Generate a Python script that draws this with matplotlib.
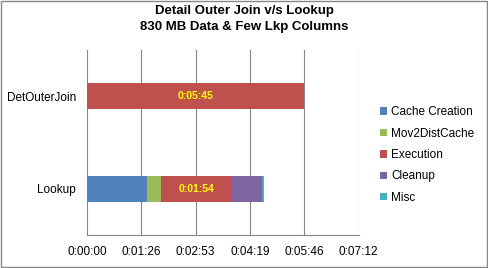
import matplotlib.pyplot as plt
from matplotlib.patches import Rectangle
from matplotlib.ticker import FuncFormatter

plt.rcParams['font.family'] = ['Liberation Sans', 'DejaVu Sans']

# ====================== DATA (seconds) ======================
categories = ['Lookup', 'DetOuterJoin']
phases = ['Cache Creation', 'Mov2DistCache', 'Execution', 'Cleanup', 'Misc']
colors = ['#4F81BD', '#9BBB59', '#C0504D', '#8064A2', '#4BACC6']
cache_creation = [96, 0]
mov2distcache = [21, 0]
execution = [114, 345]
cleanup = [47, 0]
misc = [4, 0]
x_ticks = [0, 86.4, 172.8, 259.2, 345.6, 432]


def fmt_time(sec, pos=None):
    s = int(round(sec))
    return f"{s // 3600}:{(s % 3600) // 60:02d}:{s % 60:02d}"


# ====================== PLOT ======================
fig = plt.figure(figsize=(4.88, 2.68), dpi=100)
ax = fig.add_axes([87 / 488, 1 - 235 / 268, 271.5 / 488, 185 / 268])

series = [cache_creation, mov2distcache, execution, cleanup, misc]
left = [0, 0]
ypos = range(len(categories))
for name, vals, col in zip(phases, series, colors):
    bars = ax.barh(ypos, vals, left=left, height=0.28, color=col, label=name)
    if name == 'Execution':
        for b, v in zip(bars, vals):
            ax.text(b.get_x() + b.get_width() / 2, b.get_y() + b.get_height() / 2,
                    fmt_time(v), color='#FFFF00', fontsize=7.5, fontweight='bold',
                    ha='center', va='center')
    left = [l + v for l, v in zip(left, vals)]

ax.set_xlim(0, 432)
ax.set_ylim(-0.5, 1.5)
ax.set_xticks(x_ticks)
ax.xaxis.set_major_formatter(FuncFormatter(fmt_time))
ax.set_yticks(list(ypos))
ax.set_yticklabels(categories)
ax.tick_params(axis='both', length=0, labelsize=8.5, pad=8)
ax.tick_params(axis='x', pad=8)
ax.grid(axis='x', color='#868686', linewidth=0.8)
ax.set_axisbelow(True)
for s in ['top', 'right', 'left']:
    ax.spines[s].set_visible(False)
ax.spines['bottom'].set_color('#868686')
ax.spines['bottom'].set_linewidth(0.8)

fig.text(0.5, 1 - 11 / 268, 'Detail Outer Join v/s Lookup', fontsize=9.5,
         fontweight='bold', ha='center', va='center')
fig.text(0.5, 1 - 27 / 268, '830 MB Data & Few Lkp Columns', fontsize=9.5,
         fontweight='bold', ha='center', va='center')

ax.legend(loc='center left', bbox_to_anchor=(380 / 488, 1 - 155 / 268),
          bbox_transform=fig.transFigure, frameon=False, fontsize=8.5,
          handlelength=0.6, handleheight=0.6, handletextpad=0.35,
          labelspacing=0.8, borderaxespad=0, borderpad=0)

fig.patches.append(Rectangle((0.002, 0.003), 0.995, 0.993, transform=fig.transFigure,
                             fill=False, edgecolor='#868686', linewidth=1))

fig.savefig('out.png', dpi=100)
